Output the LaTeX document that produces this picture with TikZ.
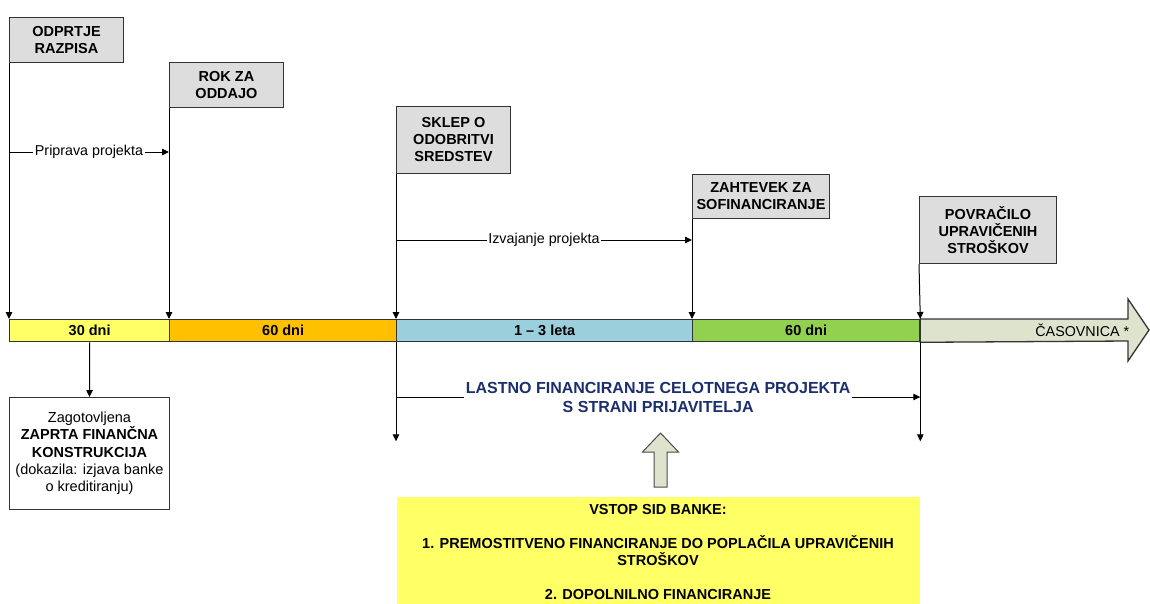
\documentclass[tikz,border=0pt]{standalone}
\usepackage{fontspec}
\setmainfont{Liberation Sans}
\usetikzlibrary{arrows.meta}
\definecolor{boxgrey}{HTML}{DDDDDD}
\definecolor{baryellow}{HTML}{FFFF66}
\definecolor{barorange}{HTML}{FFC000}
\definecolor{barblue}{HTML}{9BCFDC}
\definecolor{bargreen}{HTML}{92D050}
\definecolor{timegrey}{HTML}{DDE3CC}
\definecolor{sidyellow}{HTML}{FFFF66}
\definecolor{navy}{HTML}{1B2F6E}
\begin{document}
\begin{tikzpicture}[x=1pt,y=-1pt,line width=1pt,
    tip/.style={-{Triangle[length=7pt,width=6.5pt]}},
    milestone/.style={draw=black!80,fill=boxgrey,align=center,inner sep=0pt,anchor=north west,
      font=\fontsize{14.5}{17}\selectfont\bfseries},
    phase/.style={draw=black!80,line width=1.3pt,minimum height=22,inner sep=0pt,anchor=north west,
      font=\fontsize{14.5}{17}\selectfont\bfseries},
    lbl/.style={fill=white,inner sep=1.5pt,font=\fontsize{14.3}{17}\selectfont}]
    \useasboundingbox (0,0) rectangle (1150,603);
    \node[milestone,minimum width=114,minimum height=45] (odprtje) at (9,17) {ODPRTJE\\RAZPISA};
    \node[milestone,minimum width=114,minimum height=45] (rok) at (169,62) {ROK ZA\\ODDAJO};
    \node[milestone,minimum width=114,minimum height=67] (sklep) at (396,106) {SKLEP O\\ODOBRITVI\\SREDSTEV};
    \node[milestone,minimum width=137,minimum height=44] (zahtevek) at (692,174) {ZAHTEVEK ZA\\SOFINANCIRANJE};
    \node[milestone,minimum width=137,minimum height=67] (povracilo) at (919,196) {POVRAČILO\\UPRAVIČENIH\\STROŠKOV};
    % timeline
    \foreach \x/\w/\c/\t [count=\i] in {9/160/baryellow/30 dni,169/227/barorange/60 dni,396/296/barblue/1 -- 3 leta,692/227/bargreen/60 dni}
    \node[phase,fill=\c,minimum width=\w] (p\i) at (\x,319) {\t};
    \draw[draw=black!80,line width=1.3pt,fill=timegrey] (p4.north east) -- (1128,319) -- (1128,299) -- (1149,330)
      -- (1128,361) -- (1128,341) -- (p4.south east) -- cycle;
    \node[anchor=east,font=\fontsize{14.3}{17}\selectfont] (casovnica) at (1133,330) {ČASOVNICA *};
    \foreach \m/\p in {odprtje/p1,rok/p2,sklep/p3,zahtevek/p4}
    \draw[tip] (\m.south west) -- (\p.north west);
    \draw[tip] (povracilo.south west) -- (p4.north east);
    \coordinate (pp) at (9,152);
    \draw[tip] (pp) -- (pp -| rok.west) node[midway,lbl] {Priprava projekta};
    \coordinate (ip) at (396,240);
    \draw[tip] (ip) -- (ip -| zahtevek.west) node[midway,lbl] {Izvajanje projekta};
    % below the timeline
    \node[draw=black!80,align=center,inner sep=0pt,minimum width=160,minimum height=112,anchor=north west,
      font=\fontsize{14.5}{17.3}\selectfont] (zagot) at (9,397)
      {Zagotovljena\\\textbf{ZAPRTA FINANČNA}\\\textbf{KONSTRUKCIJA}\\(dokazila: izjava banke\\o kreditiranju)};
    \draw[tip] (p1.south) -- (zagot.north);
    \draw[tip] (p3.south west) -- ++(0,99);
    \draw[tip] (p4.south east) -- ++(0,99);
    \coordinate (lf) at (396,397);
    \draw[tip] (lf) -- (lf -| p4.east) node[midway,lbl,text=navy,align=center,font=\fontsize{16}{19}\selectfont\bfseries]
      {LASTNO FINANCIRANJE CELOTNEGA PROJEKTA\\S STRANI PRIJAVITELJA};
    \node[fill=sidyellow,anchor=north west,minimum width=523,minimum height=110,align=center,inner sep=0pt,
      font=\fontsize{14.5}{17}\selectfont\bfseries] (sid) at (396,496)
      {VSTOP SID BANKE:\\[17pt]1. PREMOSTITVENO FINANCIRANJE DO POPLAČILA UPRAVIČENIH\\STROŠKOV\\[17pt]2. DOPOLNILNO FINANCIRANJE};
    \draw[draw=black!70,fill=timegrey] ([xshift=2.5pt,yshift=9pt]sid.north) ++(-6.5,0) -- ++(0,-35) -- ++(-11.5,0)
      -- ++(18,-19) -- ++(18,19) -- ++(-11.5,0) -- ++(0,35) -- cycle;
\end{tikzpicture}
\end{document}
